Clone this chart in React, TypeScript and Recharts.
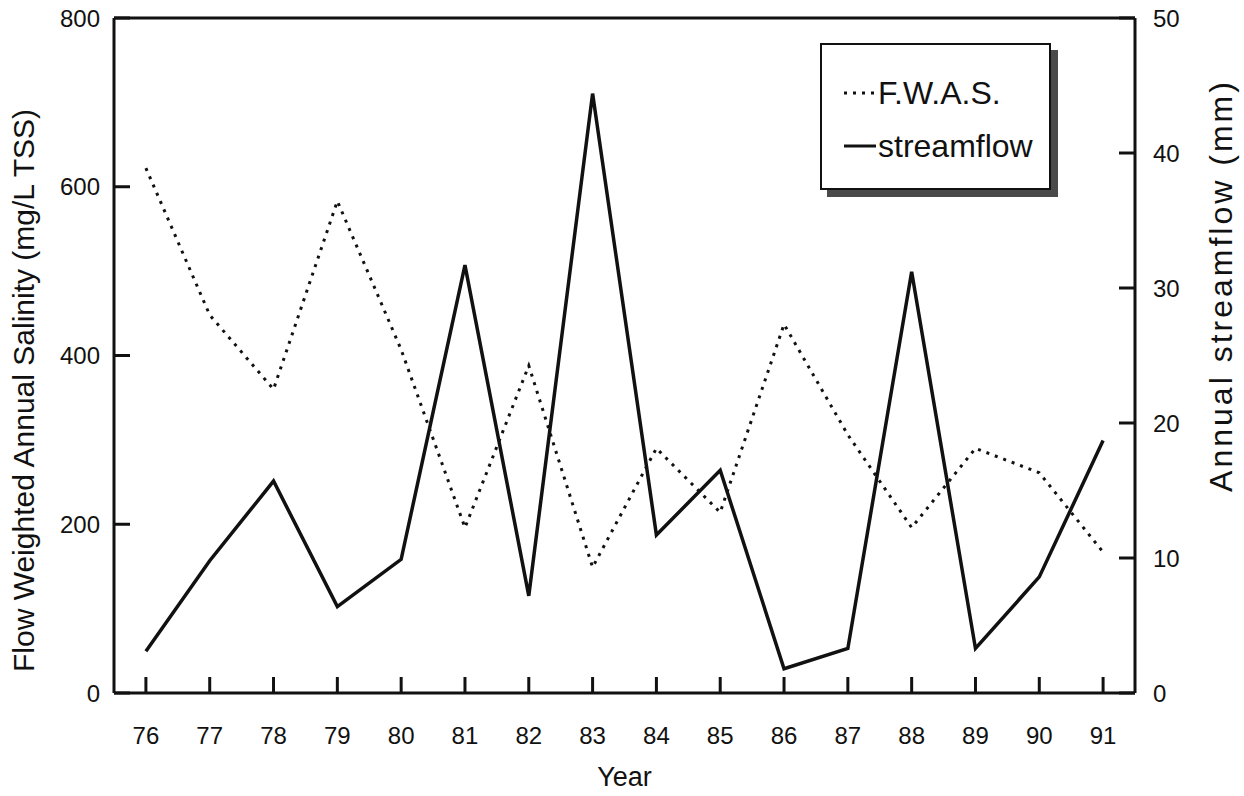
import React from 'react';
import { LineChart, Line, XAxis, YAxis, ReferenceLine, Legend, Label } from 'recharts';

// Water years (19xx)
const years = [76, 77, 78, 79, 80, 81, 82, 83, 84, 85, 86, 87, 88, 89, 90, 91];
// Flow weighted annual salinity, mg/L TSS
const fwas = [622, 448, 360, 583, 407, 196, 388, 149, 290, 214, 437, 306, 196, 290, 261, 167];
// Annual streamflow, mm
const streamflow = [3.1, 9.8, 15.7, 6.4, 9.9, 31.7, 7.2, 44.4, 11.7, 16.5, 1.8, 3.3, 31.2, 3.3, 8.6, 18.7];

const salinityTicks = [0, 200, 400, 600, 800];
const flowTicks = [0, 10, 20, 30, 40, 50];

const data = years.map((year, i) => ({ year, fwas: fwas[i], streamflow: streamflow[i] }));

const FONT = '"Liberation Sans", Arial, Helvetica, sans-serif';
const INK = '#111';
const tickStyle = { fontSize: 24, fill: INK, fontFamily: FONT };

const LeftTitle = (props: any) => {
  const vb = props.viewBox;
  const cx = vb.x + 23;
  const cy = vb.y + vb.height / 2 + 35;
  return (
    <text x={cx} y={cy} transform={`rotate(-90 ${cx} ${cy})`} textAnchor="middle"
      dominantBaseline="central" fontSize={30} fill={INK} fontFamily={FONT}>
      Flow Weighted Annual Salinity (mg/L TSS)
    </text>
  );
};

const RightTitle = (props: any) => {
  const vb = props.viewBox;
  const cx = vb.x + 86;
  const cy = vb.y + vb.height / 2 - 70;
  return (
    <text x={cx} y={cy} transform={`rotate(-90 ${cx} ${cy})`} textAnchor="middle"
      dominantBaseline="central" fontSize={32} letterSpacing={3} fill={INK} fontFamily={FONT}>
      Annual streamflow (mm)
    </text>
  );
};

const BottomTitle = (props: any) => {
  const vb = props.viewBox;
  const cx = vb.x + vb.width / 2;
  const cy = vb.y + 84;
  return (
    <text x={cx} y={cy} textAnchor="middle" dominantBaseline="central"
      fontSize={27} fill={INK} fontFamily={FONT}>
      Year
    </text>
  );
};

const LegendBox = () => (
  <div
    style={{
      width: 231,
      height: 147,
      boxSizing: 'border-box',
      border: `2.5px solid ${INK}`,
      background: '#fff',
      boxShadow: '7px 7px 0 #4a4a4a',
      position: 'relative',
    }}
  >
    <svg width={226} height={142} style={{ position: 'absolute', left: 0, top: 0 }}>
      <line x1={22} x2={52} y1={48} y2={48} stroke={INK} strokeWidth={3} strokeDasharray="3 6" />
      <text x={56} y={48} dominantBaseline="central" fontSize={32} fill={INK} fontFamily={FONT}>
        F.W.A.S.
      </text>
      <line x1={22} x2={54} y1={101} y2={101} stroke={INK} strokeWidth={3} />
      <text x={56} y={101} dominantBaseline="central" fontSize={32} fill={INK} fontFamily={FONT}>
        streamflow
      </text>
    </svg>
  </div>
);

export default function App() {
  return (
    <div style={{ position: 'absolute', left: 0, top: 0, width: 1244, height: 796, background: '#fff' }}>
      <LineChart width={1244} height={796} data={data} margin={{ top: 18, right: 0, bottom: 0, left: 0 }}>
        <XAxis
          dataKey="year"
          type="number"
          domain={[75.5, 91.5]}
          ticks={years}
          interval={0}
          height={103}
          tickSize={-16}
          tickMargin={50}
          tick={tickStyle}
          axisLine={{ stroke: INK, strokeWidth: 3 }}
          tickLine={{ stroke: INK, strokeWidth: 3 }}
        >
          <Label content={BottomTitle} />
        </XAxis>
        <YAxis
          yAxisId="left"
          orientation="left"
          domain={[0, 800]}
          ticks={salinityTicks}
          width={114}
          tickSize={-16}
          tickMargin={30}
          tick={tickStyle}
          axisLine={{ stroke: INK, strokeWidth: 3 }}
          tickLine={{ stroke: INK, strokeWidth: 3 }}
        >
          <Label content={LeftTitle} />
        </YAxis>
        <YAxis
          yAxisId="right"
          orientation="right"
          domain={[0, 50]}
          ticks={flowTicks}
          width={109}
          tickSize={-16}
          tickMargin={34}
          tick={tickStyle}
          axisLine={{ stroke: INK, strokeWidth: 3 }}
          tickLine={{ stroke: INK, strokeWidth: 3 }}
        >
          <Label content={RightTitle} />
        </YAxis>
        <ReferenceLine yAxisId="left" y={800} stroke={INK} strokeWidth={3} />
        <Legend
          layout="horizontal"
          verticalAlign="middle"
          align="center"
          content={LegendBox}
          wrapperStyle={{ left: 820, top: 43, width: 231, height: 147 }}
        />
        <Line
          yAxisId="left"
          dataKey="fwas"
          type="linear"
          stroke={INK}
          strokeWidth={3}
          strokeDasharray="3 6"
          dot={false}
          isAnimationActive={false}
        />
        <Line
          yAxisId="right"
          dataKey="streamflow"
          type="linear"
          stroke={INK}
          strokeWidth={3.5}
          dot={false}
          isAnimationActive={false}
        />
      </LineChart>
    </div>
  );
}
